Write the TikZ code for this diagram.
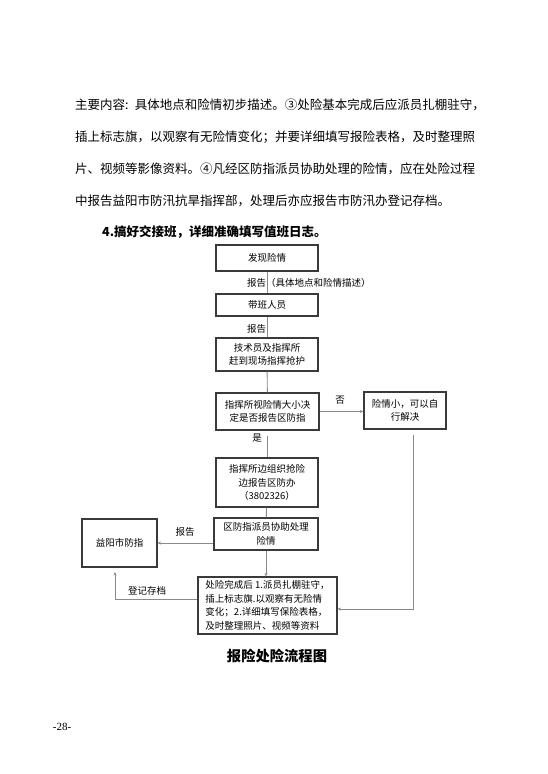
\documentclass[tikz,border=0pt]{standalone}
\usepackage{fontspec}
\setmainfont{Liberation Serif}
\newfontfamily\cjk{Noto Sans CJK SC}
\usetikzlibrary{arrows.meta}
\XeTeXlinebreaklocale "zh"
\XeTeXlinebreakskip=0pt plus 1.5pt minus 0.3pt
\definecolor{boxc}{HTML}{3A3A3A}
\definecolor{linec}{HTML}{8A8A8A}
\begin{document}
\begin{tikzpicture}[x=1pt,y=-1pt,
  box/.style={draw=boxc,line width=1.1pt,align=center,inner sep=0pt,
    font=\cjk\fontsize{9.5}{13.5}\selectfont,fill=white},
  conn/.style={draw=linec,line width=0.9pt},
  arr/.style={conn,-{Stealth[length=3.5pt,width=3pt]}},
  lab/.style={font=\cjk\fontsize{9.5}{12}\selectfont,inner sep=0pt},
  bodyline/.style={anchor=west,inner sep=0pt,text width=413pt,
    font=\cjk\fontsize{12.5}{14}\selectfont}]
\useasboundingbox (0,0) rectangle (548,774);
\fill[white] (0,0) rectangle (548,774);

% body text
\node[bodyline] (t1) at (75,105) {\parfillskip=0pt 主要内容: 具体地点和险情初步描述。③处险基本完成后应派员扎棚驻守，};
\node[bodyline] (t2) at (75,137) {\parfillskip=0pt 插上标志旗，以观察有无险情变化；并要详细填写报险表格，及时整理照};
\node[bodyline] (t3) at (75,169) {\parfillskip=0pt 片、视频等影像资料。④凡经区防指派员协助处理的险情，应在处险过程};
\node[bodyline] (t4) at (75,201) {中报告益阳市防汛抗旱指挥部，处理后亦应报告市防汛办登记存档。};
\node[anchor=west,inner sep=0pt,font=\cjk\bfseries\fontsize{12.5}{14}\selectfont] (t5) at (102,232) {4.搞好交接班，详细准确填写值班日志。};

% boxes
\node[box,minimum width=102pt,minimum height=26pt] (b1) at (267,258) {发现险情};
\node[box,minimum width=102pt,minimum height=22pt] (b2) at (267,305) {带班人员};
\node[box,minimum width=102pt,minimum height=33pt] (b3) at (267,354.5) {技术员及指挥所\\赶到现场指挥抢护};
\node[box,minimum width=103pt,minimum height=37pt] (b4) at (267.5,411.5) {指挥所视险情大小决\\定是否报告区防指};
\node[box,minimum width=82pt,minimum height=37pt] (b5) at (405,410.5) {险情小，可以自\\行解决};
\node[box,minimum width=102pt,minimum height=49pt] (b6) at (267,482.5) {指挥所边组织抢险\\边报告区防办\\（3802326）};
\node[box,minimum width=104pt,minimum height=32pt] (b7) at (266,534) {区防指派员协助处理\\险情};
\node[box,minimum width=75pt,minimum height=48pt] (yy) at (119.5,543) {益阳市防指};
\node[box,minimum width=139pt,minimum height=57pt,align=left] (bt) at (267.5,605.5) {处险完成后 1.派员扎棚驻守，\\插上标志旗.以观察有无险情\\变化；2.详细填写保险表格，\\及时整理照片、视频等资料};

% connectors
\draw[conn] (b1) -- (b2);
\draw[conn] (b2) -- (b3);
\draw[conn] (b3) -- (b4);
\draw[arr] (b4.east) -- (b4.east -| b5.west);
\coordinate (c1) at (267.5,436);
\draw[conn] (c1) -- (c1 |- b6.north);
\draw[conn] (b6) -- (b7);
\draw[arr] (yy.east -| b7.west) -- (yy.east);
\draw[arr] (b7.south) -- (b7.south |- bt.north);
\coordinate (c2) at (115,572);
\draw[arr] ([yshift=6.5pt]bt.west) -| (c2);
\coordinate (c3) at (413,435);
\draw[arr] (c3) |- ([yshift=-3.5pt]bt.east);

% labels
\node[lab,anchor=west] (l1) at (247,283) {报告（具体地点和险情描述）};
\node[lab,anchor=west] (l2) at (247,329) {报告};
\node[lab] (l3) at (340,400) {否};
\node[lab] (l4) at (257,438) {是};
\node[lab] (l5) at (185,532) {报告};
\node[lab] (l6) at (147,591) {登记存档};

% caption and page number
\node[inner sep=0pt,font=\cjk\bfseries\fontsize{14.3}{16}\selectfont] (cap) at (277,656) {报险处险流程图};
\node[inner sep=0pt,font=\fontsize{11}{13}\selectfont] (pg) at (62,727) {-28-};
\end{tikzpicture}
\end{document}
